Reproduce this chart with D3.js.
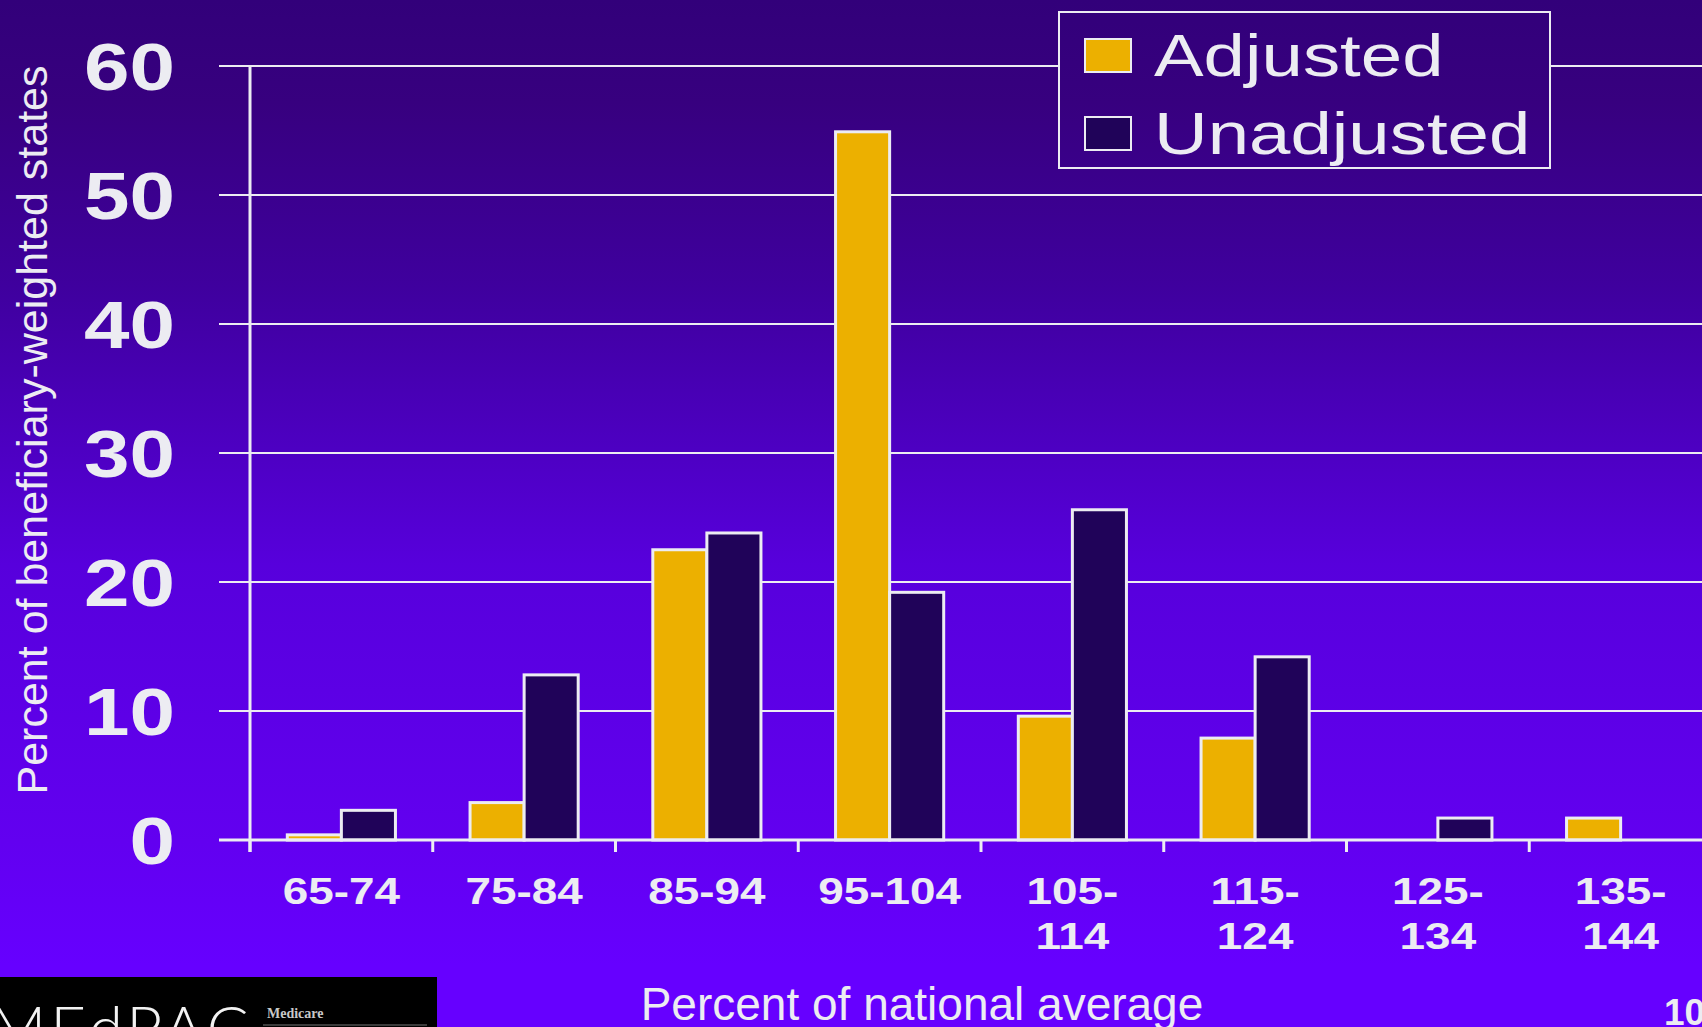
<!DOCTYPE html>
<html>
<head>
<meta charset="utf-8">
<script src="https://cdn.jsdelivr.net/npm/d3@7"></script>
<style>
    html, body { margin: 0; padding: 0; background: #6600ff; overflow: hidden; }
    svg { display: block; }
</style>
</head>
<body>
<div id="chart"></div>
<script>
// data
const categories = ["65-74", "75-84", "85-94", "95-104", "105-114", "115-124", "125-134", "135-144"];
const tickLabels = [["65-74"], ["75-84"], ["85-94"], ["95-104"], ["105-", "114"], ["115-", "124"], ["125-", "134"], ["135-", "144"]];
const seriesNames = ["Adjusted", "Unadjusted"];
const adjusted = [0.4, 2.9, 22.5, 54.9, 9.6, 7.9, 0, 1.7];
const unadjusted = [2.3, 12.8, 23.8, 19.2, 25.6, 14.2, 1.7, 0];
const yTicks = [0, 10, 20, 30, 40, 50, 60];

const width = 1702;
const height = 1027;
const stretch = 1.24; // the chart object on the slide is stretched sideways
const ink = "#ececf2";
const colors = { Adjusted: "#ecb000", Unadjusted: "#200359" };

const rows = categories.map((c, i) => ({ cat: c, Adjusted: adjusted[i], Unadjusted: unadjusted[i] }));

const svg = d3.select("#chart").append("svg")
    .attr("width", width)
    .attr("height", height)
    .attr("viewBox", [0, 0, width, height]);

// background gradient
const grad = svg.append("defs").append("linearGradient")
    .attr("id", "bg")
    .attr("gradientUnits", "userSpaceOnUse")
    .attr("x1", 0).attr("y1", 0).attr("x2", 0).attr("y2", height);
[[0, "#32007a"], [0.1, "#37007f"], [0.28, "#3f009e"], [0.55, "#5700dc"], [0.82, "#6200f0"], [0.94, "#6600ff"], [1, "#6600ff"]]
    .forEach(s => grad.append("stop").attr("offset", s[0]).attr("stop-color", s[1]));

svg.append("rect")
    .attr("width", width)
    .attr("height", height)
    .attr("fill", "url(#bg)");

const x0 = d3.scaleBand()
    .domain(categories)
    .range([250, 1712]);

const x1 = d3.scaleBand()
    .domain(seriesNames)
    .range([0, x0.bandwidth()])
    .paddingOuter(0.69);

const y = d3.scaleLinear()
    .domain([0, 60])
    .range([840, 66]);

// gridlines (they also make the left ticks)
svg.append("g")
    .selectAll("line")
    .data(yTicks)
    .join("line")
    .attr("x1", 219)
    .attr("x2", width)
    .attr("y1", d => y(d))
    .attr("y2", d => y(d))
    .attr("stroke", ink)
    .attr("stroke-width", 2);

// y tick labels
svg.append("g")
    .selectAll("text")
    .data(yTicks)
    .join("text")
    .attr("transform", d => `translate(175,${y(d)}) scale(${stretch},1)`)
    .attr("text-anchor", "end")
    .attr("dy", "0.358em")
    .attr("font-family", "'Liberation Sans', Arial, sans-serif")
    .attr("font-weight", "bold")
    .attr("font-size", 66)
    .attr("fill", ink)
    .text(d => d);

// bars
const groups = svg.append("g")
    .selectAll("g")
    .data(rows)
    .join("g")
    .attr("transform", d => `translate(${x0(d.cat)},0)`);

groups.selectAll("rect")
    .data(d => seriesNames.map(k => ({ key: k, value: d[k] })))
    .join("rect")
    .attr("x", d => x1(d.key))
    .attr("y", d => y(d.value))
    .attr("width", x1.bandwidth())
    .attr("height", d => y(0) - y(d.value))
    .attr("fill", d => colors[d.key])
    .attr("stroke", ink)
    .attr("stroke-width", 3);

// axes lines
svg.append("line")
    .attr("x1", 219).attr("x2", width)
    .attr("y1", y(0)).attr("y2", y(0))
    .attr("stroke", ink).attr("stroke-width", 3);

svg.append("line")
    .attr("x1", 250).attr("x2", 250)
    .attr("y1", y(60)).attr("y2", y(0) + 12)
    .attr("stroke", ink).attr("stroke-width", 3);

svg.append("g")
    .selectAll("line")
    .data(categories)
    .join("line")
    .attr("x1", d => x0(d)).attr("x2", d => x0(d))
    .attr("y1", y(0)).attr("y2", y(0) + 12)
    .attr("stroke", ink).attr("stroke-width", 3);

// x tick labels, one or two lines each
const xLab = svg.append("g")
    .selectAll("g")
    .data(categories)
    .join("g");

xLab.selectAll("text")
    .data((d, i) => tickLabels[i].map((t, j) => ({ t, j, cx: x0(d) + x0.bandwidth() / 2 })))
    .join("text")
    .attr("transform", d => `translate(${d.cx},${904 + d.j * 45}) scale(${stretch},1)`)
    .attr("text-anchor", "middle")
    .attr("font-family", "'Liberation Sans', Arial, sans-serif")
    .attr("font-weight", "bold")
    .attr("font-size", 37)
    .attr("fill", ink)
    .text(d => d.t);

// legend
const legend = svg.append("g");
legend.append("rect")
    .attr("x", 1059).attr("y", 12)
    .attr("width", 491).attr("height", 156)
    .attr("fill", "url(#bg)")
    .attr("stroke", ink)
    .attr("stroke-width", 2);

const legendRows = legend.selectAll("g")
    .data(seriesNames)
    .join("g")
    .attr("transform", (d, i) => `translate(0,${i * 78})`);

legendRows.append("rect")
    .attr("x", 1085).attr("y", 39)
    .attr("width", 46).attr("height", 33)
    .attr("fill", d => colors[d])
    .attr("stroke", ink)
    .attr("stroke-width", 2);

legendRows.append("text")
    .attr("transform", `translate(1154,76) scale(${stretch},1)`)
    .attr("font-family", "'Liberation Sans', Arial, sans-serif")
    .attr("font-size", 60)
    .attr("fill", ink)
    .text(d => d);

// axis titles
svg.append("text")
    .attr("transform", "translate(47,430) rotate(-90)")
    .attr("text-anchor", "middle")
    .attr("font-family", "'Liberation Sans', Arial, sans-serif")
    .attr("font-size", 43)
    .attr("fill", ink)
    .text("Percent of beneficiary-weighted states");

svg.append("text")
    .attr("x", 922)
    .attr("y", 1020)
    .attr("text-anchor", "middle")
    .attr("font-family", "'Liberation Sans', Arial, sans-serif")
    .attr("font-size", 46)
    .attr("fill", ink)
    .text("Percent of national average");

// slide number
svg.append("text")
    .attr("x", 1664)
    .attr("y", 1025)
    .attr("font-family", "'Liberation Sans', Arial, sans-serif")
    .attr("font-weight", "bold")
    .attr("font-size", 37)
    .attr("fill", ink)
    .text("10");

// logo block, bottom left
const logo = svg.append("g");
logo.append("rect")
    .attr("x", 0).attr("y", 977)
    .attr("width", 437).attr("height", 50)
    .attr("fill", "#000");
logo.append("text")
    .attr("x", -10)
    .attr("y", 1050)
    .attr("font-family", "Lato, 'Open Sans', sans-serif")
    .attr("font-weight", 300)
    .attr("font-size", 62)
    .attr("letter-spacing", 4)
    .attr("fill", "#f2f2f2")
    .text("MEdPAC");
logo.append("text")
    .attr("x", 267)
    .attr("y", 1018)
    .attr("font-family", "'Liberation Serif', serif")
    .attr("font-weight", "bold")
    .attr("font-size", 14)
    .attr("fill", "#c8c8c8")
    .text("Medicare");
logo.append("line")
    .attr("x1", 263).attr("x2", 427)
    .attr("y1", 1025).attr("y2", 1025)
    .attr("stroke", "#777").attr("stroke-width", 1);
</script>
</body>
</html>
